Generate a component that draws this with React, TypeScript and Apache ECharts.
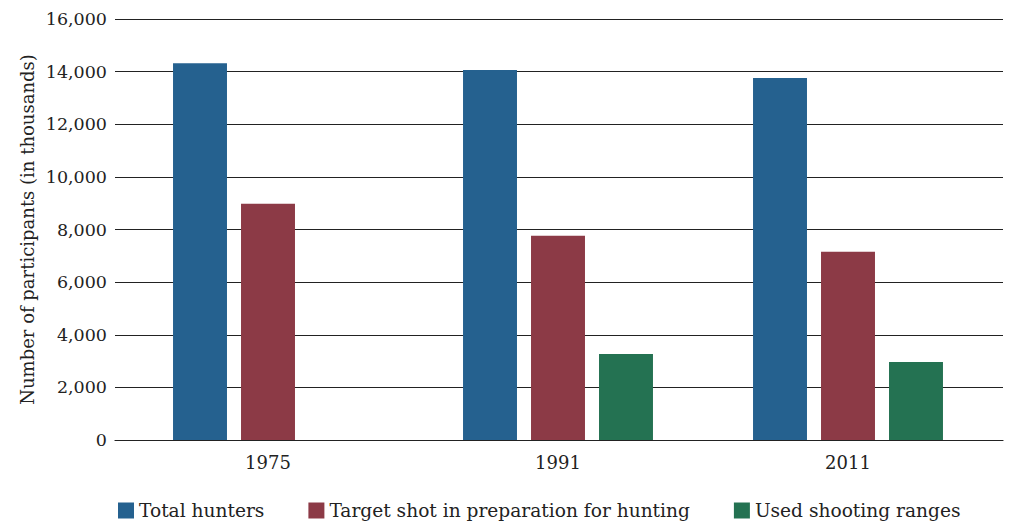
import React, { useEffect, useRef } from "react";
import * as echarts from "echarts";

const categories = ["1975", "1991", "2011"];
const totalHunters = [14320, 14060, 13760];
const targetShot = [8980, 7760, 7150];
const shootingRanges: (number | null)[] = [null, 3270, 2960];
const yTicks = { min: 0, max: 16000, interval: 2000 };

const FONT = "DejaVu Serif";
const INK = "#222";

export default function App() {
  const ref = useRef<HTMLDivElement>(null);
  useEffect(() => {
    if (!ref.current) return;
    const chart = echarts.init(ref.current, null, { renderer: "svg" });
    chart.setOption({
      animation: false,
      textStyle: { fontFamily: FONT, color: INK },
      grid: [
        { left: 115, right: 8, top: 19, bottom: 87, containLabel: false },
        { left: 123, right: 18, top: 19, bottom: 87, containLabel: false },
      ],
      legend: {
        bottom: 2,
        left: 113,
        icon: "rect",
        itemWidth: 16,
        itemHeight: 16,
        itemGap: 44,
        itemStyle: { borderWidth: 0 },
        textStyle: { fontFamily: FONT, fontSize: 18.6, color: INK },
      },
      xAxis: [
        {
          gridIndex: 0,
          type: "value",
          min: 0,
          max: 1,
          axisTick: { show: false },
          axisLabel: { show: false },
          splitLine: { show: false },
          axisLine: { show: true, onZero: true, lineStyle: { color: INK, width: 1.2 } },
        },
        {
          gridIndex: 1,
          type: "category",
          data: categories,
          axisTick: { show: false },
          axisLine: { show: false },
          axisLabel: { fontFamily: FONT, fontSize: 18, color: INK, margin: 13 },
        },
      ],
      yAxis: [
        {
          gridIndex: 0,
          type: "value",
          min: yTicks.min,
          max: yTicks.max,
          interval: yTicks.interval,
          name: "Number of participants (in thousands)",
          nameLocation: "middle",
          nameGap: 79,
          nameMoveOverlap: false,
          nameTextStyle: { fontFamily: FONT, fontSize: 18, color: INK },
          axisLine: { show: false },
          axisTick: { show: false },
          axisLabel: {
            fontFamily: FONT,
            fontSize: 17.5,
            color: INK,
            margin: 8,
            formatter: (v: number) => v.toLocaleString("en-US"),
          },
          splitLine: { lineStyle: { color: INK, width: 1.2 } },
        },
        {
          gridIndex: 1,
          type: "value",
          min: yTicks.min,
          max: yTicks.max,
          interval: yTicks.interval,
          show: false,
          splitLine: { show: false },
        },
      ],
      series: [
        {
          name: "Total hunters",
          type: "bar",
          xAxisIndex: 1,
          yAxisIndex: 1,
          data: totalHunters,
          itemStyle: { color: "#25618f" },
          barGap: "26%",
          barCategoryGap: "34.5%",
        },
        {
          name: "Target shot in preparation for hunting",
          type: "bar",
          xAxisIndex: 1,
          yAxisIndex: 1,
          data: targetShot,
          itemStyle: { color: "#8c3a46" },
        },
        {
          name: "Used shooting ranges",
          type: "bar",
          xAxisIndex: 1,
          yAxisIndex: 1,
          data: shootingRanges,
          itemStyle: { color: "#247252" },
        },
      ],
    });
    return () => chart.dispose();
  }, []);
  return (
    <div
      ref={ref}
      style={{ position: "fixed", left: 0, top: 0, width: 1011, height: 527, background: "#fff" }}
    />
  );
}
